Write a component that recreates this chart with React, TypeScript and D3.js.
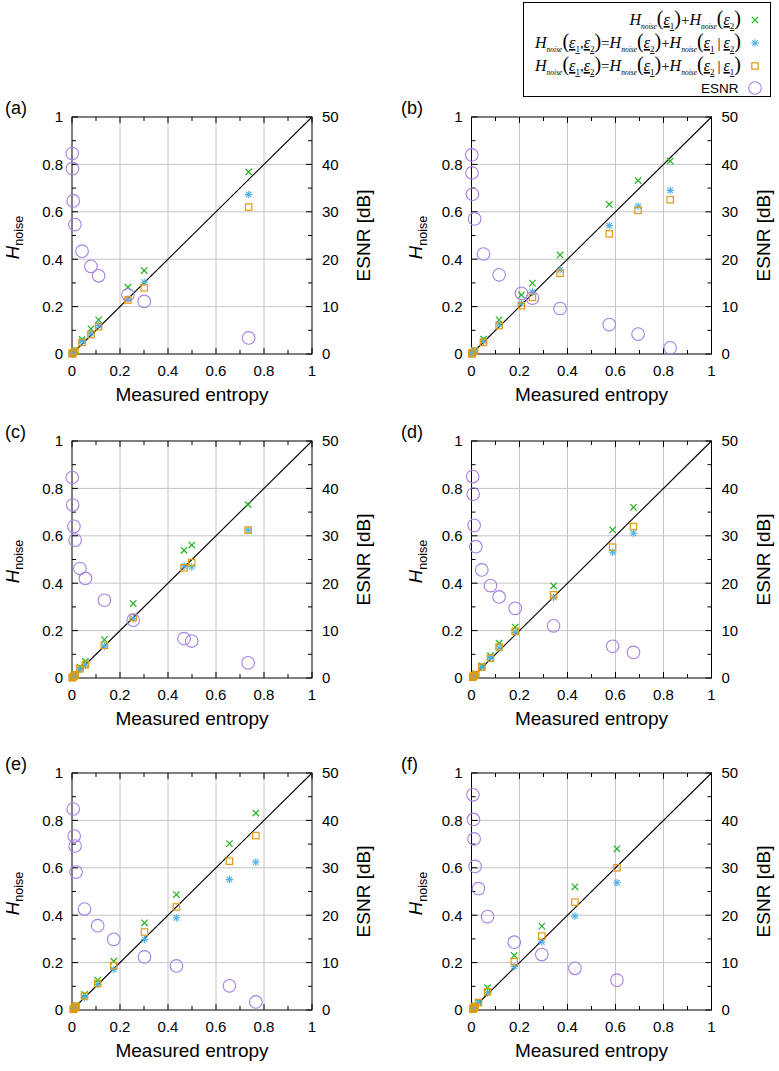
import React from 'react';
import * as d3 from 'd3';

// ---------- data ----------
const panelLabels = ['(a)', '(b)', '(c)', '(d)', '(e)', '(f)'];
const xTicks = [0, 0.2, 0.4, 0.6, 0.8, 1];
const xTickLabels = ['0', '0.2', '0.4', '0.6', '0.8', '1'];
const yTicks = [0, 0.2, 0.4, 0.6, 0.8, 1];
const yTickLabels = ['0', '0.2', '0.4', '0.6', '0.8', '1'];
const y2Ticks = [0, 10, 20, 30, 40, 50];
const y2TickLabels = ['0', '10', '20', '30', '40', '50'];

// measured entropy (x) per panel
const xA = [0.001, 0.002, 0.005, 0.012, 0.042, 0.079, 0.111, 0.233, 0.301, 0.736];
const xB = [0.001, 0.002, 0.004, 0.013, 0.05, 0.115, 0.208, 0.254, 0.369, 0.574, 0.694, 0.828];
const xC = [0.001, 0.003, 0.008, 0.013, 0.033, 0.056, 0.135, 0.255, 0.467, 0.499, 0.734];
const xD = [0.005, 0.007, 0.011, 0.018, 0.043, 0.079, 0.115, 0.182, 0.342, 0.588, 0.675];
const xE = [0.005, 0.009, 0.013, 0.017, 0.052, 0.107, 0.174, 0.302, 0.435, 0.656, 0.766];
const xF = [0.006, 0.008, 0.011, 0.015, 0.029, 0.067, 0.178, 0.293, 0.431, 0.606];

// H_noise(e1)+H_noise(e2)
const sumA = [0.001, 0.003, 0.007, 0.016, 0.062, 0.106, 0.144, 0.282, 0.352, 0.768];
const sumB = [0.001, 0.003, 0.006, 0.016, 0.063, 0.144, 0.249, 0.299, 0.418, 0.631, 0.732, 0.814];
const sumC = [0.001, 0.004, 0.010, 0.016, 0.046, 0.070, 0.162, 0.314, 0.539, 0.561, 0.732];
const sumD = [0.004, 0.007, 0.012, 0.018, 0.052, 0.094, 0.147, 0.215, 0.389, 0.625, 0.720];
const sumE = [0.004, 0.009, 0.014, 0.020, 0.066, 0.126, 0.206, 0.368, 0.487, 0.702, 0.831];
const sumF = [0.004, 0.009, 0.013, 0.018, 0.034, 0.094, 0.230, 0.354, 0.520, 0.680];

// H_noise(e2)+H_noise(e1|e2)
const jointBA = [0.001, 0.002, 0.005, 0.013, 0.054, 0.087, 0.120, 0.232, 0.303, 0.673];
const jointBB = [0.001, 0.002, 0.004, 0.013, 0.054, 0.127, 0.214, 0.261, 0.355, 0.542, 0.624, 0.690];
const jointBC = [0.001, 0.003, 0.008, 0.013, 0.035, 0.054, 0.134, 0.251, 0.472, 0.469, 0.624];
const jointBD = [0.003, 0.006, 0.010, 0.015, 0.045, 0.084, 0.126, 0.192, 0.340, 0.531, 0.611];
const jointBE = [0.003, 0.007, 0.011, 0.016, 0.052, 0.108, 0.171, 0.298, 0.389, 0.551, 0.624];
const jointBF = [0.003, 0.007, 0.010, 0.014, 0.031, 0.073, 0.183, 0.287, 0.396, 0.537];

// H_noise(e1)+H_noise(e2|e1)
const jointOA = [0.001, 0.002, 0.005, 0.012, 0.049, 0.082, 0.115, 0.228, 0.279, 0.620];
const jointOB = [0.001, 0.002, 0.004, 0.012, 0.049, 0.120, 0.204, 0.239, 0.341, 0.507, 0.606, 0.651];
const jointOC = [0.001, 0.003, 0.008, 0.013, 0.039, 0.056, 0.138, 0.255, 0.465, 0.487, 0.624];
const jointOD = [0.003, 0.006, 0.010, 0.014, 0.046, 0.084, 0.131, 0.197, 0.351, 0.552, 0.639];
const jointOE = [0.003, 0.007, 0.011, 0.016, 0.059, 0.112, 0.188, 0.329, 0.435, 0.628, 0.736];
const jointOF = [0.003, 0.007, 0.010, 0.014, 0.031, 0.077, 0.204, 0.312, 0.455, 0.600];

// ESNR [dB]
const esnrA = [42.3, 39.1, 32.3, 27.3, 21.7, 18.5, 16.5, 12.5, 11.1, 3.4];
const esnrB = [42.0, 38.2, 33.7, 28.5, 21.1, 16.7, 12.8, 11.8, 9.6, 6.2, 4.2, 1.3];
const esnrC = [42.3, 36.5, 32.0, 29.1, 23.1, 21.0, 16.4, 12.2, 8.3, 7.8, 3.2];
const esnrD = [42.5, 38.8, 32.2, 27.7, 22.8, 19.5, 17.1, 14.7, 11.0, 6.7, 5.4];
const esnrE = [42.4, 36.7, 34.6, 29.1, 21.3, 17.8, 14.9, 11.2, 9.3, 5.1, 1.7];
const esnrF = [45.4, 40.2, 36.1, 30.3, 25.6, 19.7, 14.3, 11.7, 8.8, 6.3];

const panels = [
  { label: panelLabels[0], x: xA, sum: sumA, jb: jointBA, jo: jointOA, esnr: esnrA },
  { label: panelLabels[1], x: xB, sum: sumB, jb: jointBB, jo: jointOB, esnr: esnrB },
  { label: panelLabels[2], x: xC, sum: sumC, jb: jointBC, jo: jointOC, esnr: esnrC },
  { label: panelLabels[3], x: xD, sum: sumD, jb: jointBD, jo: jointOD, esnr: esnrD },
  { label: panelLabels[4], x: xE, sum: sumE, jb: jointBE, jo: jointOE, esnr: esnrE },
  { label: panelLabels[5], x: xF, sum: sumF, jb: jointBF, jo: jointOF, esnr: esnrF },
];

// ---------- style ----------
const GREEN = '#1fb41f';
const BLUE = '#4fb0e6';
const ORANGE = '#e09a10';
const PURPLE = '#a67fe6';
const GRID = '#c4c4c4';
const SANS = 'Liberation Sans, Arial, sans-serif';
const SERIF = 'Liberation Serif, Times New Roman, serif';

const colLeft = [72, 471.5];
const rowTop = [117, 441, 773];
const PW = 240;
const PH = 237;

function Cross({ x, y, s = 3.2 }) {
  return (
    <g stroke={GREEN} strokeWidth={1.2}>
      <line x1={x - s} y1={y - s} x2={x + s} y2={y + s} />
      <line x1={x - s} y1={y + s} x2={x + s} y2={y - s} />
    </g>
  );
}
function Star({ x, y, s = 3.8 }) {
  const d = s * 0.72;
  return (
    <g stroke={BLUE} strokeWidth={1.1}>
      <line x1={x} y1={y - s} x2={x} y2={y + s} />
      <line x1={x - d} y1={y - d} x2={x + d} y2={y + d} />
      <line x1={x - d} y1={y + d} x2={x + d} y2={y - d} />
      <line x1={x - s} y1={y} x2={x + s} y2={y} />
    </g>
  );
}
function Square({ x, y, s = 3.2 }) {
  return <rect x={x - s} y={y - s} width={2 * s} height={2 * s} fill="none" stroke={ORANGE} strokeWidth={1.2} />;
}
function Circ({ x, y, r = 6.3 }) {
  return <circle cx={x} cy={y} r={r} fill="none" stroke={PURPLE} strokeWidth={1.1} />;
}

function Panel({ p, left, top, col }) {
  const xs = d3.scaleLinear().domain([0, 1]).range([left, left + PW]);
  const ys = d3.scaleLinear().domain([0, 1]).range([top + PH, top]);
  const y2 = d3.scaleLinear().domain([0, 50]).range([top + PH, top]);
  const minor = d3.range(0, 1.0001, 0.1);
  const minor2 = d3.range(0, 50.001, 5);
  const bottom = top + PH;
  const right = left + PW;
  const cy = top + PH / 2;
  const hX = col === 0 ? 18.5 : 422;
  const diag = d3.line()([[xs(0), ys(0)], [xs(1), ys(1)]]);
  return (
    <g>
      {/* grid */}
      {xTicks.slice(1, -1).map((t) => (
        <line key={'gx' + t} x1={xs(t)} x2={xs(t)} y1={top} y2={bottom} stroke={GRID} strokeWidth={1} />
      ))}
      {yTicks.slice(1, -1).map((t) => (
        <line key={'gy' + t} y1={ys(t)} y2={ys(t)} x1={left} x2={right} stroke={GRID} strokeWidth={1} />
      ))}
      {/* ticks */}
      {minor.map((t, i) => {
        const len = i % 2 === 0 ? 6 : 4;
        return (
          <g key={'t' + i} stroke="#000" strokeWidth={1}>
            <line x1={xs(t)} x2={xs(t)} y1={bottom} y2={bottom - len} />
            <line x1={xs(t)} x2={xs(t)} y1={top} y2={top + len} />
            <line x1={left} x2={left + len} y1={ys(t)} y2={ys(t)} />
          </g>
        );
      })}
      {minor2.map((t, i) => {
        const len = i % 2 === 0 ? 6 : 4;
        return <line key={'t2' + i} x1={right} x2={right - len} y1={y2(t)} y2={y2(t)} stroke="#000" strokeWidth={1} />;
      })}
      {/* frame */}
      <rect x={left} y={top} width={PW} height={PH} fill="none" stroke="#000" strokeWidth={1} />
      {/* diagonal */}
      <path d={diag} stroke="#000" strokeWidth={1.1} fill="none" />
      {/* tick labels */}
      {xTicks.map((t, i) => (
        <text key={'xl' + i} x={xs(t)} y={bottom + 22} textAnchor="middle" fontFamily={SANS} fontSize={15}>
          {xTickLabels[i]}
        </text>
      ))}
      {yTicks.map((t, i) => (
        <text key={'yl' + i} x={left - 9} y={ys(t) + 5.3} textAnchor="end" fontFamily={SANS} fontSize={15}>
          {yTickLabels[i]}
        </text>
      ))}
      {y2Ticks.map((t, i) => (
        <text key={'y2l' + i} x={right + 10} y={y2(t) + 5.3} textAnchor="start" fontFamily={SANS} fontSize={15}>
          {y2TickLabels[i]}
        </text>
      ))}
      {/* axis titles */}
      <text x={(left + right) / 2} y={bottom + 47} textAnchor="middle" fontFamily={SANS} fontSize={19}>
        Measured entropy
      </text>
      <text transform={`translate(${right + 58},${cy}) rotate(-90)`} textAnchor="middle" fontFamily={SANS} fontSize={19}>
        ESNR [dB]
      </text>
      <text transform={`translate(${hX},${cy + 2}) rotate(-90)`} textAnchor="middle" fontFamily={SANS}>
        <tspan fontSize={18.5} fontStyle="italic">H</tspan>
        <tspan fontSize={12.5} dy={4.5}>noise</tspan>
      </text>
      <text x={col === 0 ? 5 : 401} y={top - 3} fontFamily={SANS} fontSize={18}>
        {p.label}
      </text>
      {/* markers */}
      {p.x.map((xv, i) => <Cross key={'c' + i} x={xs(xv)} y={ys(p.sum[i])} />)}
      {p.x.map((xv, i) => <Star key={'s' + i} x={xs(xv)} y={ys(p.jb[i])} />)}
      {p.x.map((xv, i) => <Square key={'q' + i} x={xs(xv)} y={ys(p.jo[i])} />)}
      {p.x.map((xv, i) => <Circ key={'o' + i} x={xs(xv)} y={y2(p.esnr[i])} />)}
    </g>
  );
}

// legend math segments
type Seg = { t: string; k: 'H' | 'sub' | 'par' | 'eps' | 'op' | 'esub' };
const H = (): Seg[] => [{ t: 'H', k: 'H' }, { t: 'noise', k: 'sub' }];
const E = (n: string): Seg[] => [{ t: 'ε', k: 'eps' }, { t: n, k: 'esub' }];
const row1: Seg[] = [...H(), { t: '(', k: 'par' }, ...E('1'), { t: ')', k: 'par' }, { t: '+', k: 'op' }, ...H(), { t: '(', k: 'par' }, ...E('2'), { t: ')', k: 'par' }];
const rowJ = (a: string, b: string): Seg[] => [
  ...H(), { t: '(', k: 'par' }, ...E('1'), { t: ',', k: 'op' }, ...E('2'), { t: ')', k: 'par' },
  { t: '=', k: 'op' }, ...H(), { t: '(', k: 'par' }, ...E(b), { t: ')', k: 'par' },
  { t: '+', k: 'op' }, ...H(), { t: '(', k: 'par' }, ...E(a), { t: '\u2009|\u2009', k: 'op' }, ...E(b), { t: ')', k: 'par' },
];
const row2 = rowJ('1', '2');
const row3 = rowJ('2', '1');

function MathRow({ segs, x, y }) {
  let cur = 0;
  return (
    <text x={x} y={y} textAnchor="end" fontFamily={SERIF}>
      {segs.map((s, i) => {
        let target = 0;
        let size = 16;
        let style = 'normal';
        let deco = undefined;
        if (s.k === 'H') { style = 'italic'; size = 16; }
        if (s.k === 'sub') { style = 'italic'; size = 7.5; target = 4; }
        if (s.k === 'par') { size = 20; target = 0; }
        if (s.k === 'eps') { style = 'italic'; size = 16; deco = 'underline'; }
        if (s.k === 'esub') { size = 9; target = 4; deco = 'underline'; }
        if (s.k === 'op') { size = 15; }
        const dy = target - cur;
        cur = target;
        return (
          <tspan key={i} dy={dy} fontSize={size} fontStyle={style} textDecoration={deco}>
            {s.t}
          </tspan>
        );
      })}
    </text>
  );
}

export default function App() {
  return (
    <svg width={779} height={1071} style={{ position: 'absolute', left: 0, top: 0, background: '#fff' }}>
      <rect x={0} y={0} width={779} height={1071} fill="#fff" />
      {panels.map((p, i) => (
        <Panel key={i} p={p} left={colLeft[i % 2]} top={rowTop[Math.floor(i / 2)]} col={i % 2} />
      ))}
      {/* legend */}
      <rect x={523.5} y={2.5} width={247} height={94} fill="#fff" stroke="#000" strokeWidth={1} />
      <MathRow segs={row1} x={741} y={25} />
      <MathRow segs={row2} x={741} y={48} />
      <MathRow segs={row3} x={741} y={71} />
      <text x={738.5} y={92.5} textAnchor="end" fontFamily={SANS} fontSize={13.5}>ESNR</text>
      <Cross x={755} y={20} />
      <Star x={755} y={43} />
      <Square x={755} y={66} />
      <Circ x={755} y={88} />
    </svg>
  );
}
